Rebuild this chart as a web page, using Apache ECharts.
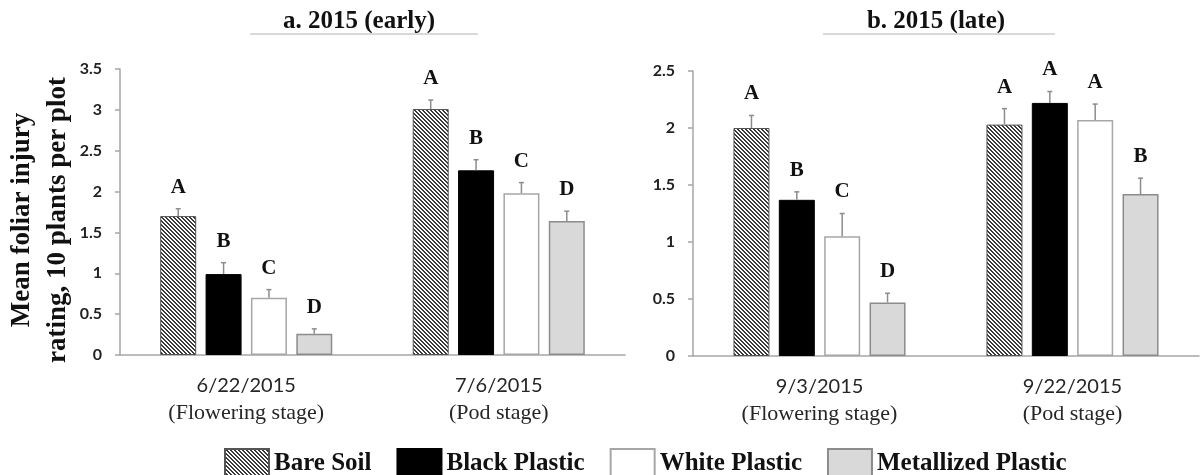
<!DOCTYPE html>
<html><head><meta charset="utf-8">
<script src="https://cdn.jsdelivr.net/npm/echarts@6/dist/echarts.min.js"></script>
<style>html,body{margin:0;padding:0;background:#fff}#c{width:1200px;height:475px}</style>
</head><body><div id="c"></div><script>
// ---- data ----
const treatments = ['Bare Soil', 'Black Plastic', 'White Plastic', 'Metallized Plastic'];
const earlyDates = ['6/22/2015', '7/6/2015'];
const lateDates = ['9/3/2015', '9/22/2015'];
const stages = ['(Flowering stage)', '(Pod stage)'];

const earlyBare = [1.70, 3.01];
const earlyBlack = [0.99, 2.26];
const earlyWhite = [0.70, 1.98];
const earlyMetal = [0.26, 1.64];
const earlyBareSE = [0.09, 0.11];
const earlyBlackSE = [0.14, 0.13];
const earlyWhiteSE = [0.10, 0.13];
const earlyMetalSE = [0.06, 0.12];
const earlyBareLetters = ['A', 'A'];
const earlyBlackLetters = ['B', 'B'];
const earlyWhiteLetters = ['C', 'C'];
const earlyMetalLetters = ['D', 'D'];

const lateBare = [2.00, 2.03];
const lateBlack = [1.37, 2.22];
const lateWhite = [1.05, 2.07];
const lateMetal = [0.47, 1.42];
const lateBareSE = [0.11, 0.14];
const lateBlackSE = [0.07, 0.10];
const lateWhiteSE = [0.20, 0.14];
const lateMetalSE = [0.08, 0.14];
const lateBareLetters = ['A', 'A'];
const lateBlackLetters = ['B', 'A'];
const lateWhiteLetters = ['C', 'A'];
const lateMetalLetters = ['D', 'B'];

// ---- styles ----
function hatch() {
  const c = document.createElement('canvas'); c.width = 4; c.height = 4;
  const ctx = c.getContext('2d');
  ctx.fillStyle = '#ffffff'; ctx.fillRect(0, 0, 4, 4);
  ctx.fillStyle = '#3a3a3a';
  for (let y = 0; y < 4; y++) for (let x = 0; x < 4; x++) {
    if ((((x - y) % 4) + 4) % 4 < 2) ctx.fillRect(x, y, 1, 1);
  }
  return c;
}
const hatchImg = hatch();
const styles = [
  { color: { image: hatchImg, repeat: 'repeat' }, borderColor: '#555', borderWidth: 1 },
  { color: '#000000', borderColor: '#000000', borderWidth: 1 },
  { color: '#ffffff', borderColor: '#a6a6a6', borderWidth: 1.5 },
  { color: '#d9d9d9', borderColor: '#8c8c8c', borderWidth: 1.5 }
];
const BAR_W = 36, GAP = 0.26;
const axisColor = '#a6a6a6';
const serif = '"Liberation Serif", "Times New Roman", serif';
const sans = 'Lato, "Open Sans", sans-serif';

function barSeries(name, data, gi, t) {
  return {
    type: 'bar', name: name, data: data, xAxisIndex: gi, yAxisIndex: gi,
    barWidth: BAR_W, barGap: (GAP * 100) + '%', itemStyle: styles[t],
    emphasis: { disabled: true }, animation: false
  };
}
function errSeries(gi, means, ses, letters) {
  const data = [];
  for (let t = 0; t < means.length; t++)
    for (let c = 0; c < means[t].length; c++)
      data.push([c, t, means[t][c], ses[t][c], letters[t][c]]);
  return {
    type: 'custom', xAxisIndex: gi, yAxisIndex: gi, z: 5, silent: true, animation: false,
    data: data, encode: { x: 0, y: 2 },
    renderItem: function (params, api) {
      const d = data[params.dataIndex];
      const step = BAR_W * (1 + GAP);
      const cx = api.coord([d[0], 0])[0] + (d[1] - 1.5) * step;
      const yb = api.coord([d[0], d[2]])[1];
      const yt = api.coord([d[0], d[2] + d[3]])[1];
      return {
        type: 'group', children: [
          { type: 'line', shape: { x1: cx, y1: yb, x2: cx, y2: yt }, style: { stroke: '#8c8c8c', lineWidth: 1.5 } },
          { type: 'line', shape: { x1: cx - 2.5, y1: yt, x2: cx + 2.5, y2: yt }, style: { stroke: '#8c8c8c', lineWidth: 1.5 } },
          { type: 'text', x: cx, y: yt - 11, style: { text: d[4], font: 'bold 21px ' + serif, fill: '#111', align: 'center', verticalAlign: 'bottom' } }
        ]
      };
    }
  };
}
function xAx(gi, dates) {
  return {
    type: 'category', gridIndex: gi, data: dates,
    axisLine: { lineStyle: { color: axisColor, width: 1.5 } },
    axisTick: { length: 7, lineStyle: { color: axisColor, width: 1.5 } },
    axisLabel: {
      interval: 0, margin: 18,
      formatter: function (v, i) { return '{a|' + v + '}\n{b|' + stages[i] + '}'; },
      rich: {
        a: { fontFamily: sans, fontSize: 20, color: '#262626', lineHeight: 26 },
        b: { fontFamily: serif, fontSize: 22, color: '#262626', lineHeight: 28 }
      }
    }
  };
}
function yAx(gi, max) {
  return {
    type: 'value', gridIndex: gi, min: 0, max: max, interval: 0.5,
    splitLine: { show: false },
    axisLine: { show: true, lineStyle: { color: axisColor, width: 1.5 } },
    axisTick: { show: true, length: 5, lineStyle: { color: axisColor, width: 1.5 } },
    axisLabel: { margin: 18, fontFamily: sans, fontWeight: 'bold', fontSize: 16, color: '#222' }
  };
}

const chart = echarts.init(document.getElementById('c'), null, { renderer: 'canvas' });
chart.setOption({
  animation: false,
  backgroundColor: '#fff',
  grid: [
    { left: 120, top: 69, width: 505, height: 286 },
    { left: 693, top: 71, width: 506, height: 285 }
  ],
  xAxis: [xAx(0, earlyDates), xAx(1, lateDates)],
  yAxis: [yAx(0, 3.5), yAx(1, 2.5)],
  legend: {
    left: 219, top: 443, itemWidth: 44, itemHeight: 30, itemGap: 25, icon: 'rect',
    data: treatments, selectedMode: false,
    textStyle: { fontFamily: serif, fontWeight: 'bold', fontSize: 25, color: '#111' }
  },
  graphic: [
    { type: 'text', x: 359, y: 22, style: { text: 'a. 2015 (early)', font: 'bold 25px ' + serif, fill: '#111', align: 'center', verticalAlign: 'middle' } },
    { type: 'line', shape: { x1: 250, y1: 34, x2: 478, y2: 34 }, style: { stroke: '#d9d9d9', lineWidth: 2 } },
    { type: 'text', x: 936, y: 22, style: { text: 'b. 2015 (late)', font: 'bold 25px ' + serif, fill: '#111', align: 'center', verticalAlign: 'middle' } },
    { type: 'line', shape: { x1: 823, y1: 34, x2: 1055, y2: 34 }, style: { stroke: '#d9d9d9', lineWidth: 2 } },
    { type: 'text', x: 40, y: 220, rotation: Math.PI / 2,
      style: { text: 'Mean foliar injury\nrating, 10 plants per plot', font: 'bold 27px ' + serif, lineHeight: 36, fill: '#111', align: 'center', verticalAlign: 'middle' } }
  ],
  series: [
    barSeries(treatments[0], earlyBare, 0, 0),
    barSeries(treatments[1], earlyBlack, 0, 1),
    barSeries(treatments[2], earlyWhite, 0, 2),
    barSeries(treatments[3], earlyMetal, 0, 3),
    barSeries(treatments[0], lateBare, 1, 0),
    barSeries(treatments[1], lateBlack, 1, 1),
    barSeries(treatments[2], lateWhite, 1, 2),
    barSeries(treatments[3], lateMetal, 1, 3),
    errSeries(0, [earlyBare, earlyBlack, earlyWhite, earlyMetal], [earlyBareSE, earlyBlackSE, earlyWhiteSE, earlyMetalSE],
      [earlyBareLetters, earlyBlackLetters, earlyWhiteLetters, earlyMetalLetters]),
    errSeries(1, [lateBare, lateBlack, lateWhite, lateMetal], [lateBareSE, lateBlackSE, lateWhiteSE, lateMetalSE],
      [lateBareLetters, lateBlackLetters, lateWhiteLetters, lateMetalLetters])
  ]
});
</script></body></html>
